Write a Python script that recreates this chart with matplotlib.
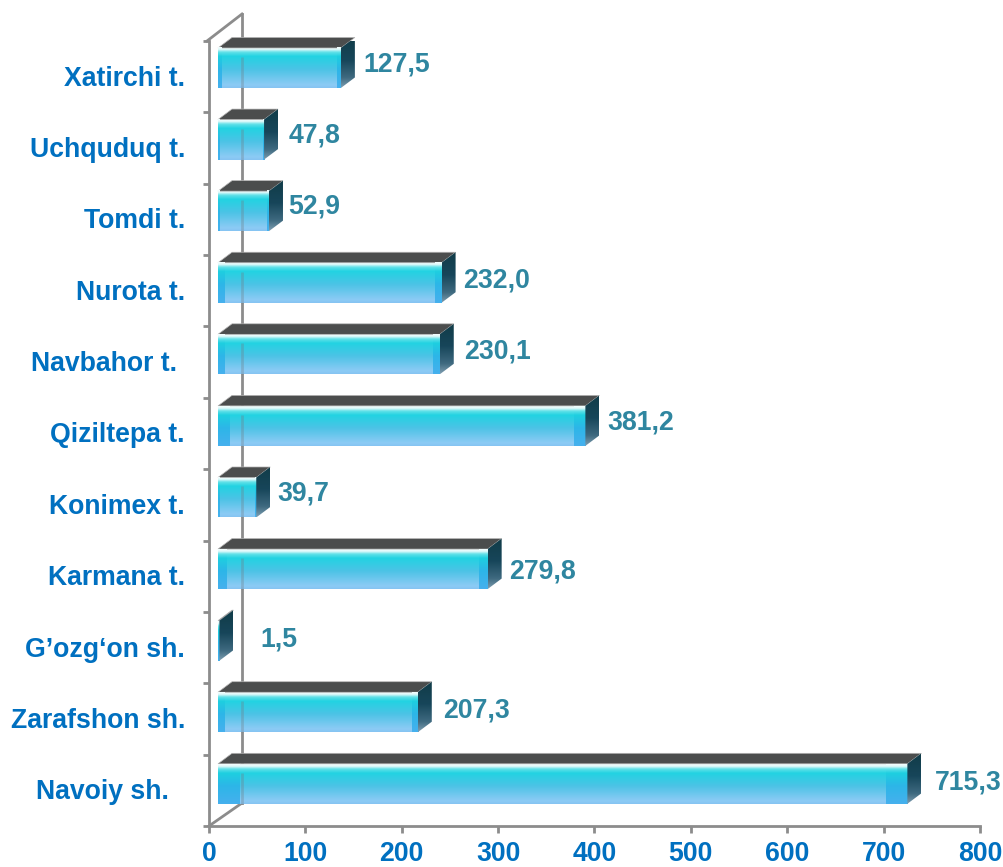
import numpy as np
import matplotlib
matplotlib.use("Agg")
import matplotlib.pyplot as plt
from matplotlib.colors import LinearSegmentedColormap
from matplotlib.patches import Polygon

plt.rcParams['font.family'] = ['Liberation Sans', 'DejaVu Sans']

categories = ["Navoiy sh.", "Zarafshon sh.", "G\u2019ozg\u2018on sh.", "Karmana t.", "Konimex t.",
              "Qiziltepa t.", "Navbahor t.", "Nurota t.", "Tomdi t.", "Uchquduq t.", "Xatirchi t."]
values = [715.3, 207.3, 1.5, 279.8, 39.7, 381.2, 230.1, 232.0, 52.9, 47.8, 127.5]
value_labels = ["715,3", "207,3", "1,5", "279,8", "39,7", "381,2", "230,1", "232,0", "52,9", "47,8", "127,5"]
label_shift_x = [14, 11, 27, 7, 7, 8, 10, 8, 5, 11, 8]
label_shift_y = [8, 8, 8, 5, 11, 11, 11, 10, 13, 13, 12]
cat_trailing = [16, 0, 0, 0, 0, 0, 8, 0, 0, 0, 0]
xticks = [0, 100, 200, 300, 400, 500, 600, 700, 800]

W, H = 1004, 867
L, R, T, B = 209, 980, 41, 826
fig = plt.figure(figsize=(W / 100, H / 100), dpi=100)
ax = fig.add_axes([L / W, 1 - B / H, (R - L) / W, (B - T) / H])
px = 800 / (R - L)
py = 11 / (B - T)

GREY = "#8c8c8c"
BLUE = "#0070c0"
TEAL = "#2f86a0"
LW = 2.0
FS = 19.2

main_cm = LinearSegmentedColormap.from_list("m", [(0, "#f2fdfd"), (.05, "#dff9fa"), (.12, "#5fe0e8"), (.22, "#22d3e2"),
                                                  (.55, "#4cc3e6"), (.93, "#8ccbf5"), (1, "#86c4f2")])
cap_cm = LinearSegmentedColormap.from_list("c", [(0, "#f2fdfd"), (.05, "#dff9fa"), (.12, "#5fe0e8"), (.22, "#1ecfe0"),
                                                 (.55, "#2db6e8"), (1, "#46b0ee")])
side_cm = LinearSegmentedColormap.from_list("s", [(0, "#113c48"), (.45, "#17465a"), (.8, "#3f6a80"), (1, "#7d9db0")])
grad = np.linspace(0, 1, 64).reshape(-1, 1)

# frame of the 3D box
ax.plot([-2 * px, 33 * px], [10.5, 10.5 + 27 * py], color=GREY, lw=LW, clip_on=False, zorder=1)
ax.plot([33 * px, 33 * px], [-0.5 + 23 * py, 10.5 + 27 * py], color=GREY, lw=LW, clip_on=False, zorder=1)
ax.plot([0, 33 * px], [-0.5, -0.5 + 23 * py], color=GREY, lw=LW, clip_on=False, zorder=1)

ox, oy = 9 * px, 6.5 * py
h = 20 * py
dx, dy = 14 * px, 10.5 * py
for i, v in enumerate(values):
    x0 = ox
    x1 = ox + v
    c = i + oy + i * 0.22 * py
    y0, y1 = c - h, c + h
    ax.imshow(grad, cmap=main_cm, extent=(x0, x1, y0, y1), aspect="auto", zorder=3, clip_on=False, interpolation="bilinear")
    cap = 0.031 * v
    for a, b in ((x0, x0 + cap), (x1 - cap, x1)):
        ax.imshow(grad, cmap=cap_cm, extent=(a, b, y0, y1), aspect="auto", zorder=3.1, clip_on=False, interpolation="bilinear")
    if x1 > 33 * px:
        ax.plot([33 * px, 33 * px], [y0, y1 - 9 * py], color="#6f7f8a", alpha=.35, lw=LW, zorder=3.2, solid_capstyle="butt")
    top = Polygon([(x0, y1), (x1, y1), (x1 + dx, y1 + dy), (x0 + dx, y1 + dy)], closed=True, facecolor="#4b4d4d",
                  edgecolor="#b5b5b5", lw=.5, zorder=3, clip_on=False)
    ax.add_patch(top)
    side = Polygon([(x1, y0), (x1, y1), (x1 + dx, y1 + dy), (x1 + dx, y0 + dy)], closed=True, facecolor="none",
                   edgecolor="none", transform=ax.transData)
    ax.add_patch(side)
    im = ax.imshow(grad, cmap=side_cm, extent=(x1, x1 + dx, y0, y1 + dy), aspect="auto", zorder=3.3, clip_on=True, interpolation="bilinear")
    im.set_clip_path(side)
    ax.annotate(value_labels[i], xy=(x1 + dx, i), xytext=(label_shift_x[i], label_shift_y[i]), textcoords="offset pixels",
                ha="left", va="center", color=TEAL, fontsize=FS, fontweight="bold", zorder=5, annotation_clip=False)
    ax.annotate(categories[i], xy=(0, i), xytext=(-24 - cat_trailing[i], -2), textcoords="offset pixels",
                ha="right", va="center", color=BLUE, fontsize=FS, fontweight="bold", annotation_clip=False)

ax.set_xlim(0, 800)
ax.set_ylim(-0.5, 10.5)
ax.patch.set_alpha(0)
for s in ("top", "right"):
    ax.spines[s].set_visible(False)
for s in ("left", "bottom"):
    ax.spines[s].set_color(GREY)
    ax.spines[s].set_linewidth(LW)
ax.set_xticks(xticks)
ax.set_xticklabels([str(t) for t in xticks], color=BLUE, fontsize=FS, fontweight="bold")
ax.set_yticks(np.arange(-0.5, 11, 1))
ax.set_yticklabels([])
ax.tick_params(axis="x", color=GREY, width=LW, length=5, pad=5.5)
ax.tick_params(axis="y", color=GREY, width=LW, length=4)
for t in ax.get_xticklabels():
    t.set_clip_on(False)

fig.savefig("out.png", dpi=100)
